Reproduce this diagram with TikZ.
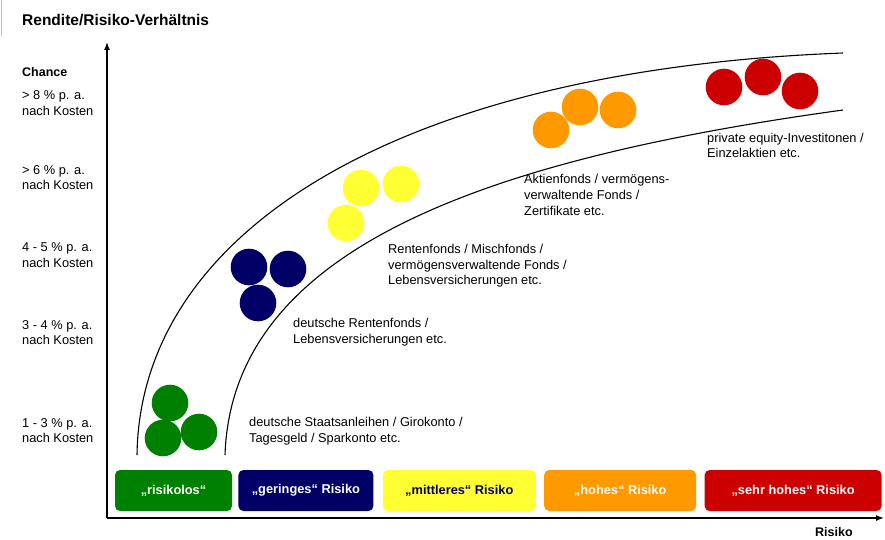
\documentclass[tikz,border=0pt]{standalone}
\usepackage{fontspec}
\setmainfont{Liberation Sans}
\usepackage{xcolor}
\usetikzlibrary{arrows.meta,positioning}
\definecolor{riskGreen}{RGB}{0,128,0}
\definecolor{riskNavy}{RGB}{0,0,102}
\definecolor{riskYellow}{RGB}{255,255,51}
\definecolor{riskOrange}{RGB}{255,153,0}
\definecolor{riskRed}{RGB}{204,0,0}
\colorlet{pagegray}{black!25}

\begin{document}
\begin{tikzpicture}[x=1pt,y=-1pt,>={Latex[length=8pt,width=6pt]},
  txt/.style={font=\fontsize{12.8}{15.6}\selectfont,align=left,anchor=west,inner sep=0pt},
  ball/.style={circle,inner sep=0pt,minimum size=36.6pt},
  riskbox/.style={rounded corners=5pt,minimum height=41pt,inner sep=0pt,font=\fontsize{12.8}{15}\selectfont\bfseries,text=white},
  band/.style={line width=1.1pt}]
\useasboundingbox (0,0) rectangle (885,540);
\draw[pagegray,line width=1pt] (1,0) -- (1,36);
% title and axis labels
\node[txt,font=\fontsize{15.5}{18}\selectfont\bfseries] (title) at (22,20) {Rendite/Risiko-Verhältnis};
\node[txt,font=\fontsize{12.5}{15}\selectfont\bfseries] (chance) at (22,72) {Chance};
\node[txt,font=\fontsize{12.5}{15}\selectfont\bfseries] (risiko) at (815,532) {Risiko};
\node[txt] (c8) at (22,103) {> 8 \% p. a.\\nach Kosten};
\node[txt] (c6) at (22,177.5) {> 6 \% p. a.\\nach Kosten};
\node[txt] (c45) at (22,255) {4 - 5 \% p. a.\\nach Kosten};
\node[txt] (c34) at (22,332.5) {3 - 4 \% p. a.\\nach Kosten};
\node[txt] (c13) at (22,430.5) {1 - 3 \% p. a.\\nach Kosten};
% axes
\coordinate (O) at (107,518);
\coordinate (ytop) at (107,42);
\coordinate (xend) at (884,518);
\draw[->,line width=1.4pt] (O) -- (ytop);
\draw[->,line width=1.4pt] (O) -- (xend);
% band
\coordinate (outerA) at (137,455);
\coordinate (outerB) at (843,53);
\coordinate (innerA) at (225,455);
\coordinate (innerB) at (843,110);
\draw[band] (outerA) .. controls (140,230) and (400,70) .. (outerB);
\draw[band] (innerA) .. controls (232,250) and (480,160) .. (innerB);
% balls
\node[ball,fill=riskGreen] (g1) at (170,403) {};
\node[ball,fill=riskGreen] (g2) at (163,438) {};
\node[ball,fill=riskGreen] (g3) at (199,432) {};
\node[ball,fill=riskNavy] (n1) at (249,267) {};
\node[ball,fill=riskNavy] (n2) at (288,269) {};
\node[ball,fill=riskNavy] (n3) at (258,303) {};
\node[ball,fill=riskYellow] (y1) at (361,188) {};
\node[ball,fill=riskYellow] (y2) at (401,184) {};
\node[ball,fill=riskYellow] (y3) at (346,223) {};
\node[ball,fill=riskOrange] (o1) at (551,130) {};
\node[ball,fill=riskOrange] (o2) at (580,107) {};
\node[ball,fill=riskOrange] (o3) at (618,110) {};
\node[ball,fill=riskRed] (r1) at (724,87) {};
\node[ball,fill=riskRed] (r2) at (763,77) {};
\node[ball,fill=riskRed] (r3) at (800,91) {};
% examples
\node[txt] (lowtxt) at (249,431) {deutsche Staatsanleihen / Girokonto /\\Tagesgeld / Sparkonto etc.};
\node[txt] (navytxt) at (293,332) {deutsche Rentenfonds /\\Lebensversicherungen etc.};
\node[txt] (midtxt) at (388,266) {Rentenfonds / Mischfonds /\\vermögensverwaltende Fonds /\\Lebensversicherungen etc.};
\node[txt] (hightxt) at (524,195) {Aktienfonds / vermögens-\\verwaltende Fonds /\\Zertifikate etc.};
\node[txt] (toptxt) at (707,145.5) {private equity-Investitonen /\\Einzelaktien etc.};
% risk classes
\node[riskbox,fill=riskGreen,minimum width=117pt] (bGreen) at (173.5,490.5) {„risikolos“};
\node[riskbox,fill=riskNavy,minimum width=135pt,right=6pt of bGreen] (bNavy) {„geringes“ Risiko};
\node[riskbox,fill=riskYellow,minimum width=153pt,right=9pt of bNavy,text=riskNavy] (bYellow) {„mittleres“ Risiko};
\node[riskbox,fill=riskOrange,minimum width=152pt,right=8pt of bYellow] (bOrange) {„hohes“ Risiko};
\node[riskbox,fill=riskRed,minimum width=177pt,right=8pt of bOrange] (bRed) {„sehr hohes“ Risiko};
\end{tikzpicture}
\end{document}
